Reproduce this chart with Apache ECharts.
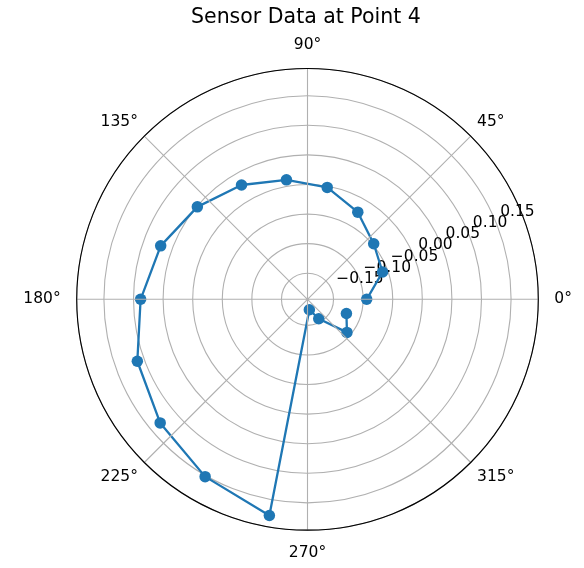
<!DOCTYPE html>
<html>
<head>
<meta charset="utf-8">
<script src="https://cdn.jsdelivr.net/npm/echarts@6/dist/echarts.min.js"></script>
<style>
  html, body { margin: 0; padding: 0; background: #fff; }
  #chart { width: 584px; height: 568px; }
</style>
</head>
<body>
<div id="chart"></div>
<script>
// sensor readings, one every 20 degrees
const angles = [0, 20, 40, 60, 80, 100, 120, 140, 160, 180, 200, 220, 240, 260, 280, 300, 320, 340];
const values = [-0.094, -0.059, -0.048, -0.024, -0.002, 0.011, 0.029, 0.049, 0.070, 0.088,
                 0.112, 0.131, 0.152, 0.177, -0.176, -0.156, -0.107, -0.124];
const angleTicks = [0, 45, 90, 135, 180, 225, 270, 315];
const rMin = -0.194;
const rMax = 0.196;

const center = [307.5, 299.3];
const radius = 230.8;
const fontFam = 'DejaVu Sans';

const points = angles.map((a, i) => [values[i], a]);

const fmtR = (v) => {
    if (Math.abs(v * 20 - Math.round(v * 20)) > 1e-6) return '';
    return v.toFixed(2).replace('-', '\u2212');
};

const chart = echarts.init(document.getElementById('chart'));
chart.setOption({
    animation: false,
    backgroundColor: '#fff',
    title: {
        text: 'Sensor Data at Point 4',
        left: 191,
        top: 7,
        padding: 0,
        textStyle: { fontFamily: fontFam, fontSize: 20.5, fontWeight: 'normal', color: '#000' }
    },
    polar: [
        { center: center, radius: radius },
        { center: center, radius: radius }
    ],
    angleAxis: [
        {
            polarIndex: 0,
            type: 'value',
            min: 0,
            max: 360,
            interval: 45,
            startAngle: 0,
            clockwise: false,
            z: 5,
            axisLine: { show: true, lineStyle: { color: '#000', width: 1.1 } },
            axisTick: { show: false },
            splitLine: { show: true, lineStyle: { color: '#b0b0b0', width: 1.1 } },
            axisLabel: {
                margin: 9,
                color: '#000',
                fontFamily: fontFam,
                fontSize: 15.5,
                formatter: (v) => {
                    if (v === 360) return '';
                    return angleTicks.indexOf(v) % 2 === 0 ? '{c|' + v + '°}' : '{d|' + v + '°}';
                },
                rich: {
                    c: { fontFamily: fontFam, fontSize: 15.5, color: '#000', padding: [6, 7, 7, 7] },
                    d: { fontFamily: fontFam, fontSize: 15.5, color: '#000' }
                }
            }
        },
        {
            polarIndex: 1,
            type: 'value',
            min: 0,
            max: 360,
            startAngle: 22.5,
            clockwise: false,
            axisLine: { show: false },
            axisTick: { show: false },
            axisLabel: { show: false },
            splitLine: { show: false }
        }
    ],
    radiusAxis: [
        {
            polarIndex: 0,
            type: 'value',
            min: rMin,
            max: rMax,
            splitNumber: 8,
            axisLine: { show: false },
            axisTick: { show: false },
            axisLabel: { show: false },
            splitLine: { show: true, lineStyle: { color: '#b0b0b0', width: 1.1 } }
        },
        {
            polarIndex: 1,
            type: 'value',
            min: rMin,
            max: rMax,
            splitNumber: 8,
            axisLine: { show: false },
            axisTick: { show: false },
            splitLine: { show: false },
            axisLabel: {
                margin: 1,
                align: 'left',
                verticalAlign: 'bottom',
                padding: [0, 0, 1, 5],
                color: '#000',
                fontFamily: fontFam,
                fontSize: 15.5,
                formatter: fmtR
            }
        }
    ],
    series: [
        {
            type: 'line',
            coordinateSystem: 'polar',
            polarIndex: 0,
            data: points,
            symbol: 'circle',
            symbolSize: 11.5,
            lineStyle: { color: '#1f77b4', width: 2.3 },
            itemStyle: { color: '#1f77b4' }
        }
    ]
});
</script>
</body>
</html>
